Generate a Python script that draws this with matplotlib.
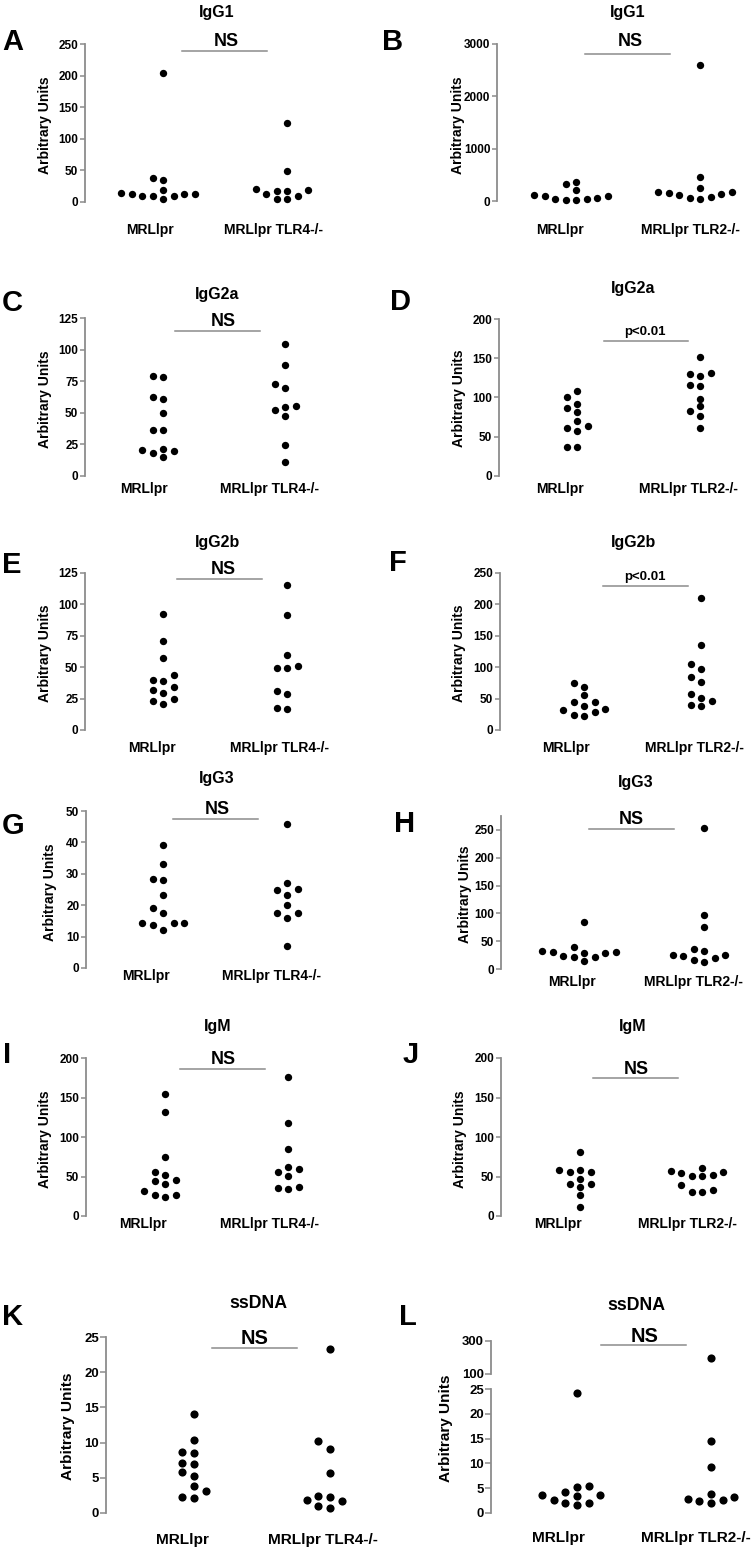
import numpy as np
import matplotlib
matplotlib.use('Agg')
import matplotlib.pyplot as plt
from matplotlib.lines import Line2D

plt.rcParams['font.family'] = ['Liberation Sans', 'DejaVu Sans']
plt.rcParams['font.weight'] = 'bold'

W, H = 756, 1552
GREY = '#8c8c8c'

groups_tlr4 = ['MRLlpr', 'MRLlpr TLR4-/-']
groups_tlr2 = ['MRLlpr', 'MRLlpr TLR2-/-']

# values (arbitrary units)
igg1_wt4 = [204, 37, 35, 18.5, 13, 11.5, 9.5, 4, 14, 9, 9.5, 12]
igg1_ko4 = [125, 49, 18, 17, 8.5, 19.5, 4, 5, 11.5, 17]
igg1_wt2 = [357, 318, 210, 89, 64, 32, 121, 19, 25, 45, 89]
igg1_ko2 = [2600, 452, 242, 166, 134, 64, 178, 45, 70, 121, 146]
igg2a_wt4 = [78.7, 79.2, 62.2, 60.6, 49.8, 36, 36, 21.2, 19.9, 14.8, 17.7, 20.4]
igg2a_ko4 = [104.3, 87.9, 72.8, 69.4, 54.6, 47.1, 52.2, 55.6, 24.6, 10.9]
igg2a_wt2 = [108.7, 100.2, 91.7, 81.4, 86.6, 70.4, 60.6, 57.1, 63.5, 36.2, 37.1]
igg2a_ko2 = [152.2, 130.9, 130.5, 127.5, 116, 114.7, 98.5, 88.7, 82.3, 75.9, 61.4]
igg2b_wt4 = [92.4, 70.4, 57.2, 43.4, 39.2, 40, 34.4, 32, 29.7, 24.6, 20.4, 23]
igg2b_ko4 = [115.2, 91.6, 59.6, 50.8, 49.3, 49.5, 31, 28.3, 16.7, 17.7]
igg2b_wt2 = [75.2, 68.9, 55.6, 45, 44.5, 33.9, 28.6, 22.2, 23.8, 31.8, 38.7]
igg2b_ko2 = [210.3, 135, 104.3, 96.9, 84.2, 75.7, 57.7, 46.6, 38.7, 39.7, 50.8]
igg3_wt4 = [39.2, 33.2, 28.3, 27.9, 23.1, 19, 17.4, 14.2, 14.2, 12.2, 13.6, 14.2]
igg3_ko4 = [45.8, 27.2, 25.2, 24.7, 23.4, 20.1, 17.4, 17.4, 15.9, 7.1]
igg3_wt2 = [83.9, 39.9, 30.4, 28, 20.8, 32.1, 13.7, 30.4, 20.8, 22.6, 29.2]
igg3_ko2 = [253.6, 96.4, 75, 36.3, 32.7, 24.4, 19.6, 13.1, 16.7, 22.6, 25]
igm_wt4 = [155.2, 131.5, 74.4, 55.8, 51.6, 44.4, 40.6, 45.7, 27, 24.5, 27, 32.1]
igm_ko4 = [175.9, 117.5, 85.4, 62.6, 55.4, 50.3, 59.6, 37.2, 33.8, 35.1]
igm_wt2 = [81.2, 58.8, 56.2, 55.4, 58.8, 46.9, 41, 40.2, 37.2, 27.1, 11.8]
igm_ko2 = [57.1, 54.1, 50.3, 50.3, 51.6, 55.4, 61.3, 33.4, 30.9, 30.9, 39.7]
ssdna_wt4 = [14.07, 10.3, 8.7, 8.46, 7.03, 6.99, 5.75, 5.28, 3.8, 3.04, 2.04, 2.23]
ssdna_ko4 = [23.3, 10.2, 9.08, 5.6, 2.28, 1.71, 2.38, 0.67, 0.95, 1.8]
ssdna_wt2 = [24.2, 5.14, 5.34, 4.19, 3.58, 3.38, 2.03, 1.55, 1.96, 2.64, 3.58]
ssdna_ko2 = [198, 14.6, 9.3, 3.18, 2.57, 1.89, 2.3, 2.84, 3.72]

# layout in pixels of the 756x1552 page
panels = [
    dict(tag='A', title='IgG1', groups=groups_tlr4, data=(igg1_wt4, igg1_ko4), ylim=(0, 250), yticks=range(0, 251, 50),
         spine=85, y0=201.7, ytop=44.3, c=(163, 287), cat=(150, 274), caty=230, tit=(217, 12), tagxy=(13, 42),
         sig='NS', sigxy=(226, 42), bar=(182, 267, 51), ylab=(45, 125)),
    dict(tag='B', title='IgG1', groups=groups_tlr2, data=(igg1_wt2, igg1_ko2), ylim=(0, 3000), yticks=range(0, 3001, 1000),
         spine=497, y0=201, ytop=44, c=(576, 700), cat=(560, 690), caty=230, tit=(628, 12), tagxy=(393, 42),
         sig='NS', sigxy=(630, 42), bar=(585, 670, 54), ylab=(458, 125)),
    dict(tag='C', title='IgG2a', groups=groups_tlr4, data=(igg2a_wt4, igg2a_ko4), ylim=(0, 125), yticks=range(0, 126, 25),
         spine=85, y0=475.7, ytop=318.3, c=(163, 285), cat=(144, 269), caty=489, tit=(217, 295), tagxy=(12, 303),
         sig='NS', sigxy=(223, 322), bar=(175, 260, 331), ylab=(45, 399)),
    dict(tag='D', title='IgG2a', groups=groups_tlr2, data=(igg2a_wt2, igg2a_ko2), ylim=(0, 200), yticks=range(0, 201, 50),
         spine=499, y0=475.7, ytop=319.3, c=(577, 700), cat=(560, 688), caty=489, tit=(633, 288), tagxy=(400, 302),
         sig='p<0.01', sigxy=(645, 332), bar=(604, 688, 341), ylab=(459, 398)),
    dict(tag='E', title='IgG2b', groups=groups_tlr4, data=(igg2b_wt4, igg2b_ko4), ylim=(0, 125), yticks=range(0, 126, 25),
         spine=85, y0=730, ytop=572.7, c=(163, 287), cat=(152, 279), caty=748, tit=(218, 542), tagxy=(12, 565),
         sig='NS', sigxy=(223, 570), bar=(177, 262, 579), ylab=(45, 653)),
    dict(tag='F', title='IgG2b', groups=groups_tlr2, data=(igg2b_wt2, igg2b_ko2), ylim=(0, 250), yticks=range(0, 251, 50),
         spine=500, y0=730, ytop=572.7, c=(584, 701), cat=(566, 694), caty=748, tit=(633, 542), tagxy=(398, 563),
         sig='p<0.01', sigxy=(645, 577), bar=(603, 688, 586), ylab=(459, 653)),
    dict(tag='G', title='IgG3', groups=groups_tlr4, data=(igg3_wt4, igg3_ko4), ylim=(0, 50), yticks=range(0, 51, 10),
         spine=86, y0=968, ytop=811, c=(163, 287), cat=(146, 272), caty=976, tit=(217, 778), tagxy=(13, 826),
         sig='NS', sigxy=(217, 809), bar=(173, 258, 819), ylab=(50, 892)),
    dict(tag='H', title='IgG3', groups=groups_tlr2, data=(igg3_wt2, igg3_ko2), ylim=(0, 275), yticks=range(0, 251, 50),
         spine=501, y0=969, ytop=816, c=(584, 704), cat=(572, 693), caty=982, tit=(636, 783), tagxy=(405, 824),
         sig='NS', sigxy=(631, 820), bar=(589, 674, 829), ylab=(465, 894)),
    dict(tag='I', title='IgM', groups=groups_tlr4, data=(igm_wt4, igm_ko4), ylim=(0, 200), yticks=range(0, 201, 50),
         spine=86, y0=1216, ytop=1058.3, c=(165, 288), cat=(143, 270), caty=1224, tit=(218, 1026), tagxy=(7, 1055),
         sig='NS', sigxy=(223, 1060), bar=(180, 265, 1069), ylab=(45, 1139)),
    dict(tag='J', title='IgM', groups=groups_tlr2, data=(igm_wt2, igm_ko2), ylim=(0, 200), yticks=range(0, 201, 50),
         spine=501, y0=1216, ytop=1058, c=(580, 702), cat=(558, 687), caty=1224, tit=(633, 1027), tagxy=(411, 1055),
         sig='NS', sigxy=(636, 1069), bar=(593, 678, 1078), ylab=(460, 1139)),
    dict(tag='K', title='ssDNA', groups=groups_tlr4, data=(ssdna_wt4, ssdna_ko4), ylim=(0, 25), yticks=range(0, 26, 5),
         spine=106, y0=1512.7, ytop=1337.3, c=(194, 330), cat=(182, 323), caty=1540, tit=(258, 1303), tagxy=(13, 1317),
         sig='NS', sigxy=(255, 1338), bar=(212, 297, 1348), ylab=(68, 1426), k=1.11),
    dict(tag='L', title='ssDNA', groups=groups_tlr2, data=(ssdna_wt2, ssdna_ko2), ylim=(0, 25), yticks=range(0, 26, 5),
         spine=491, y0=1512.7, ytop=1389.3, c=(577, 711), cat=(558, 696), caty=1538, tit=(636, 1306), tagxy=(408, 1317),
         sig='NS', sigxy=(645, 1337), bar=(601, 686, 1345), ylab=(446, 1428), k=1.11,
         upper=dict(ylim=(100, 300), yticks=[100, 300], y0=1374, ytop=1340.7)),
]


def swarm(ypx, step, height):
    # simple beeswarm in pixel space, lowest values placed first
    offs = np.zeros(len(ypx))
    placed = []
    cands = [0.0]
    for n in range(1, 40):
        cands += [-n * step / 2, n * step / 2]
    for i in np.argsort(ypx, kind='stable'):
        for c in cands:
            if all(abs(c - px) >= step * 0.999 or abs(ypx[i] - py) >= height for px, py in placed):
                offs[i] = c
                placed.append((c, ypx[i]))
                break
    return offs


def ftext(x, y, s, **kw):
    fig.text(x / W, 1 - y / H, s, ha='center', va='center', **kw)


def make_ax(p, ylim, yticks, y0, ytop, k):
    left, right = p['spine'], p['c'][1] + 50
    ax = fig.add_axes([left / W, 1 - y0 / H, (right - left) / W, (y0 - ytop) / H])
    c1, c2 = p['c']
    ax.set_xlim((left - c1) / (c2 - c1), (right - c1) / (c2 - c1))
    ax.set_ylim(*ylim)
    ax.set_yticks(list(yticks))
    ax.set_xticks([])
    ax.patch.set_visible(False)
    for side in ['top', 'right', 'bottom']:
        ax.spines[side].set_visible(False)
    ax.spines['left'].set_color(GREY)
    ax.spines['left'].set_linewidth(1.3)
    ax.tick_params(axis='y', length=3.8 * k, width=1.1, color=GREY, labelsize=8.5 * k, pad=1)
    return ax


fig = plt.figure(figsize=(W / 100, H / 100), dpi=100)

for p in panels:
    k = p.get('k', 1.0)
    ax = make_ax(p, p['ylim'], p['yticks'], p['y0'], p['ytop'], k)
    ppu = (p['y0'] - p['ytop']) / (p['ylim'][1] - p['ylim'][0])
    axu = None
    if 'upper' in p:
        u = p['upper']
        axu = make_ax(p, u['ylim'], u['yticks'], u['y0'], u['ytop'], k)
        ppu_u = (u['y0'] - u['ytop']) / (u['ylim'][1] - u['ylim'][0])
    c1, c2 = p['c']
    step, height = 10.5 * k, 7.5 * k
    for g, vals in enumerate(p['data']):
        vals = np.asarray(vals, dtype=float)
        if axu is None:
            ypx = vals * ppu
        else:
            ypx = np.where(vals <= p['ylim'][1], vals * ppu,
                           (p['y0'] - u['y0']) + (vals - u['ylim'][0]) * ppu_u)
        xs = g + swarm(ypx, step, height) / (c2 - c1)
        if axu is None:
            ax.scatter(xs, vals, s=28 * k * k, color='black', linewidths=0, clip_on=False, zorder=3)
        else:
            lo = vals <= p['ylim'][1]
            ax.scatter(xs[lo], vals[lo], s=28 * k * k, color='black', linewidths=0, clip_on=False, zorder=3)
            axu.scatter(xs[~lo], vals[~lo], s=28 * k * k, color='black', linewidths=0, clip_on=False, zorder=3)
        ftext(p['cat'][g], p['caty'], p['groups'][g], fontsize=10 * k)

    ftext(*p['tit'], p['title'], fontsize=11.5 * k)
    ftext(*p['tagxy'], p['tag'], fontsize=21)
    ftext(*p['sigxy'], p['sig'], fontsize=(13 if p['sig'] == 'NS' else 9.5) * k)
    x0, x1, yb = p['bar']
    fig.add_artist(Line2D([x0 / W, x1 / W], [1 - yb / H, 1 - yb / H], color=GREY, linewidth=1.1))
    fig.text(p['ylab'][0] / W, 1 - p['ylab'][1] / H, 'Arbitrary Units', rotation=90,
             ha='center', va='center', fontsize=10 * k)

fig.savefig('out.png', dpi=100, facecolor='white')
